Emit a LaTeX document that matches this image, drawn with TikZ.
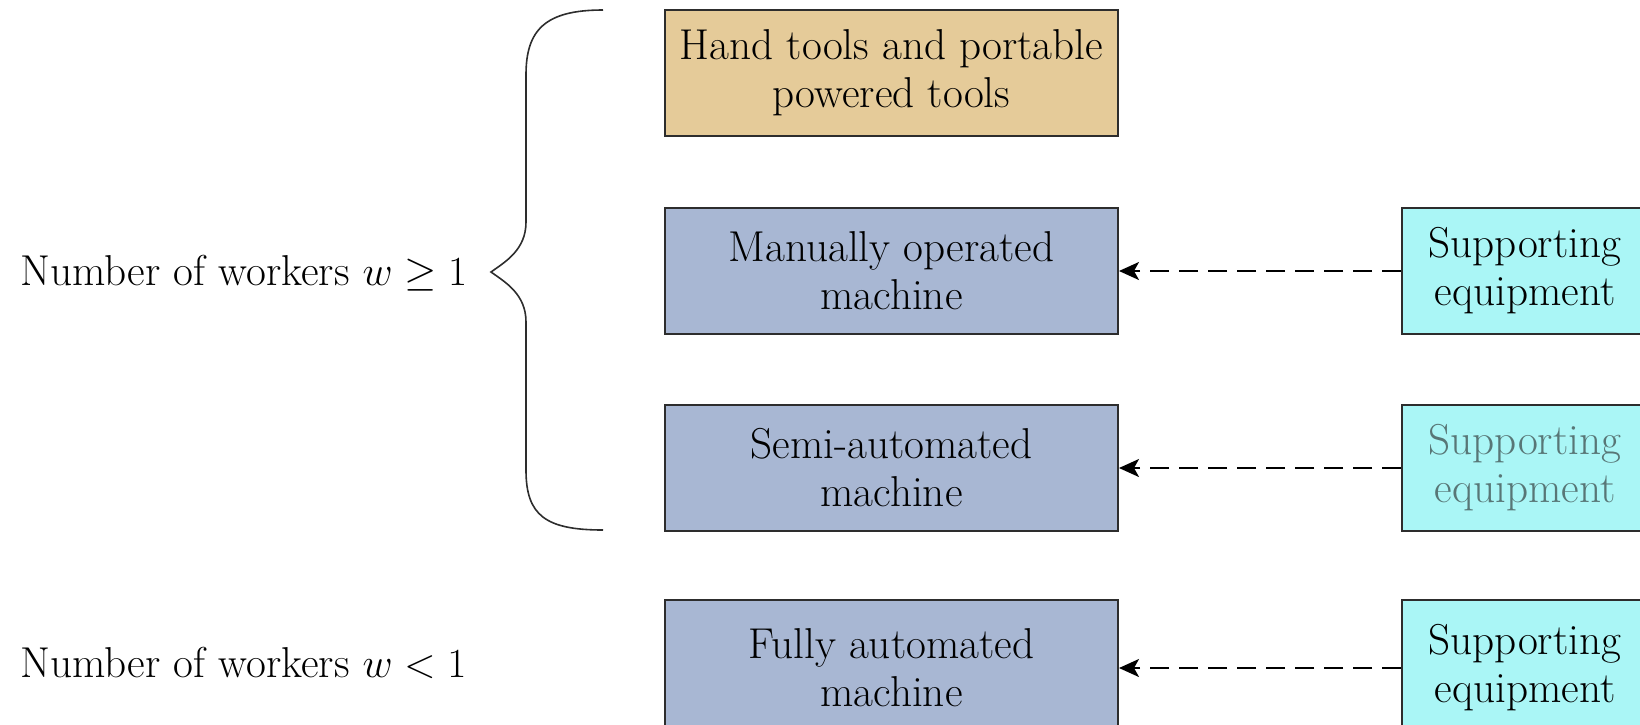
\documentclass[tikz,border=0pt]{standalone}
\usetikzlibrary{arrows.meta}
\definecolor{toolfill}{RGB}{229,203,153}
\definecolor{machfill}{RGB}{168,183,211}
\definecolor{supfill}{RGB}{170,246,246}
\definecolor{edge}{RGB}{45,45,45}
\definecolor{fadetext}{RGB}{88,118,118}
\begin{document}
\begin{tikzpicture}[x=0.5pt,y=-0.5pt,
  txt/.style={font=\fontsize{21.6}{24}\selectfont},
  box/.style={txt,draw=edge,line width=1pt,align=center,inner sep=0pt,
    minimum width=226.5pt,minimum height=63pt},
  toolbox/.style={box,fill=toolfill},
  machbox/.style={box,fill=machfill},
  supbox/.style={box,fill=supfill,minimum width=123pt},
  feed/.style={draw=black,line width=1pt,dash pattern=on 9.5pt off 5pt,
    -{Stealth[length=10pt,width=9pt,inset=2.5pt]}},
  label/.style={txt,anchor=base west,inner sep=0pt}]
\useasboundingbox (0,0) rectangle (1640,724);

% machines
\node[toolbox] (hand)   at (891.5,73)  {Hand tools and portable\\powered tools};
\node[machbox] (manual) at (891.5,271) {Manually operated\\machine};
\node[machbox] (semi)   at (891.5,468) {Semi-automated\\machine};
\node[machbox,minimum height=68pt] (full) at (891.5,668) {Fully automated\\machine};

% supporting equipment
\node[supbox] (sup1) at (1525,271) {Supporting\\equipment};
\node[supbox,text=fadetext] (sup2) at (1525,468) {Supporting\\equipment};
\node[supbox,minimum height=68pt] (sup3) at (1525,668) {Supporting\\equipment};

\draw[feed] (sup1.west) -- (manual.east);
\draw[feed] (sup2.west) -- (semi.east);
\draw[feed] (sup3.west) -- (full.east);

% worker counts
\node[label] (many) at (20,285) {Number of workers $w \geq 1$};
\node[label] (few)  at (20,677) {Number of workers $w < 1$};

% brace grouping the manned machines
\coordinate (btop) at (603,10);
\coordinate (btip) at (491,272);
\coordinate (bbot) at (603,530);
\draw[edge,line width=0.8pt]
  (btop) .. controls (545,10) and (526,30) .. (526,75)
  -- (526,222) .. controls (526,250) and (505,262) .. (btip)
  .. controls (505,282) and (526,294) .. (526,322)
  -- (526,470) .. controls (526,515) and (545,530) .. (bbot);
\end{tikzpicture}
\end{document}
